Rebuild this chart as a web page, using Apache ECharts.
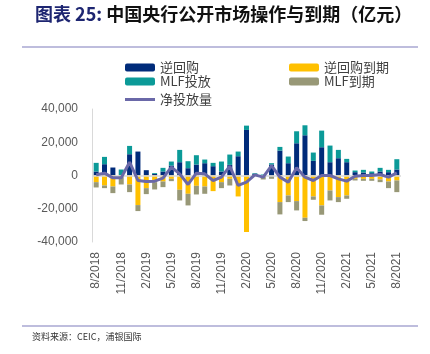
<!DOCTYPE html>
<html>
<head>
<meta charset="utf-8">
<script src="https://cdn.jsdelivr.net/npm/echarts@6/dist/echarts.min.js"></script>
<style>
  html, body { margin: 0; padding: 0; background: #fff; }
  #chart { width: 430px; height: 354px; }
</style>
</head>
<body>
<div id="chart"></div>
<script>
// months 8/2018 .. 8/2021
const months = [
  '8/2018', '9/2018', '10/2018', '11/2018', '12/2018', '1/2019', '2/2019', '3/2019', '4/2019',
  '5/2019', '6/2019', '7/2019', '8/2019', '9/2019', '10/2019', '11/2019', '12/2019', '1/2020',
  '2/2020', '3/2020', '4/2020', '5/2020', '6/2020', '7/2020', '8/2020', '9/2020', '10/2020',
  '11/2020', '12/2020', '1/2021', '2/2021', '3/2021', '4/2021', '5/2021', '6/2021', '7/2021', '8/2021'
];

// 逆回购
const reverseRepo = [
  2400, 6800, 4800, 0, 12800, 14400, 3200, 1000, 2400,
  6000, 8000, 4400, 6600, 7400, 5600, 2400, 6400, 11600,
  27400, 1000, 0, 6600, 15000, 7400, 19400, 24200, 8800,
  17000, 8000, 10400, 8000, 2000, 1800, 1400, 2400, 2000, 3600
];
// MLF投放
const mlfIssue = [
  5200, 4400, 0, 3600, 5000, 0, 0, 500, 2200,
  2400, 7400, 4200, 5600, 2200, 2000, 6000, 6200, 2800,
  2600, 400, 600, 800, 2200, 4000, 7200, 6000, 5000,
  10000, 10000, 5000, 2000, 1000, 1600, 1000, 2200, 1400, 6200
];
// 逆回购到期
const repoMature = [
  -4000, -6000, -6600, -1000, -5400, -17800, -7600, -4000, -3600,
  -2000, -8600, -11000, -6200, -6600, -9400, -4000, -2000, -12600,
  -34000, 0, 0, 0, -16000, -12000, -15400, -25400, -12600,
  -18000, -9000, -13000, -12000, -2000, -2000, -2000, -2400, -3600, -3000
];
// MLF到期
const mlfMature = [
  -3200, -1600, -4000, -4400, -4600, -3600, -3600, -4400, -3400,
  -1400, -6400, -7000, -5200, -4400, 0, -3600, -4000, 0,
  0, 0, -2400, -2000, -7400, -4000, -5600, -2000, -2000,
  -5600, -6000, -3000, -2000, -1000, -1200, -1200, -1600, -4000, -7000
];
// 净投放量
const netInject = [
  400, 1400, -1400, -1400, 8000, -3000, -3600, -3400, -1600,
  5000, 1000, -5400, 1400, 1000, -3000, -1000, 5600, -6000,
  -4000, 400, -1000, 6000, -1000, -4000, 4600, -1000, -3000,
  0, 0, -2000, -3400, -400, 0, 0, 600, -1000, 1600
];

const yTicks = [-40000, -20000, 0, 20000, 40000];

const chart = echarts.init(document.getElementById('chart'));
const cjk = '"Noto Sans CJK SC", sans-serif';
const legendText = { color: '#404040', fontSize: 13, fontFamily: cjk };

const barSeries = (name, data, color, extra) => Object.assign({
  name: name,
  type: 'bar',
  stack: 'ops',
  data: data,
  barWidth: 5,
  itemStyle: { color: color },
  silent: true
}, extra || {});

chart.setOption({
  animation: false,
  textStyle: { fontFamily: cjk },
  title: {
    text: '{a|图表 25:} {b|中国央行公开市场操作与到期（亿元）}',
    left: 30,
    top: 0,
    textStyle: {
      rich: {
        a: { color: '#1d2571', fontSize: 18, fontWeight: 'bold', fontFamily: cjk },
        b: { color: '#111', fontSize: 18, fontWeight: 'bold', fontFamily: cjk }
      }
    }
  },
  graphic: [
    { type: 'line', shape: { x1: 22, y1: 47, x2: 418, y2: 47 }, style: { stroke: '#a9a7d2', lineWidth: 1.5 } },
    { type: 'line', shape: { x1: 22, y1: 326, x2: 418, y2: 326 }, style: { stroke: '#a9a7d2', lineWidth: 1.5 } },
    { type: 'text', left: 32, top: 332, style: { text: '资料来源：CEIC，浦银国际', fill: '#333', font: '9px "Noto Sans CJK SC"' } }
  ],
  legend: [
    {
      orient: 'vertical', left: 120, top: 56, itemWidth: 30, itemHeight: 8, itemGap: 1,
      data: ['逆回购', 'MLF投放'],
      textStyle: legendText
    },
    {
      orient: 'vertical', left: 284, top: 56, itemWidth: 30, itemHeight: 8, itemGap: 1,
      data: ['逆回购到期', 'MLF到期'],
      textStyle: legendText
    },
    {
      left: 120, top: 88, itemWidth: 30, itemHeight: 3,
      data: [{ name: '净投放量', icon: 'rect' }],
      itemStyle: { color: '#6a68a8' },
      textStyle: legendText
    }
  ],
  grid: { left: 92, right: 29, top: 109, height: 133, containLabel: false },
  xAxis: {
    type: 'category',
    data: months,
    axisLine: { show: false },
    axisTick: { show: false },
    axisLabel: {
      interval: 2,
      rotate: 90,
      margin: 10,
      color: '#595959',
      fontSize: 12,
      fontFamily: 'Liberation Sans, sans-serif'
    }
  },
  yAxis: {
    type: 'value',
    min: yTicks[0],
    max: yTicks[yTicks.length - 1],
    interval: 20000,
    axisLine: { show: true, lineStyle: { color: '#d9d9d9', width: 1 } },
    axisTick: { show: false },
    splitLine: { show: false },
    axisLabel: {
      color: '#595959',
      fontSize: 12,
      margin: 14,
      fontFamily: 'Liberation Sans, sans-serif',
      formatter: v => v.toLocaleString('en-US')
    }
  },
  series: [
    barSeries('逆回购', reverseRepo, '#002b7a', {
      markLine: {
        silent: true, symbol: 'none', label: { show: false },
        lineStyle: { color: '#d9d9d9', width: 1.5, type: 'solid' },
        data: [{ yAxis: 0 }]
      }
    }),
    barSeries('MLF投放', mlfIssue, '#0b9a98'),
    barSeries('逆回购到期', repoMature, '#ffc000'),
    barSeries('MLF到期', mlfMature, '#989877'),
    {
      name: '净投放量',
      type: 'line',
      data: netInject,
      symbol: 'none',
      lineStyle: { color: '#6a68a8', width: 3 },
      itemStyle: { color: '#6a68a8' },
      z: 5,
      silent: true
    }
  ]
});
</script>
</body>
</html>
